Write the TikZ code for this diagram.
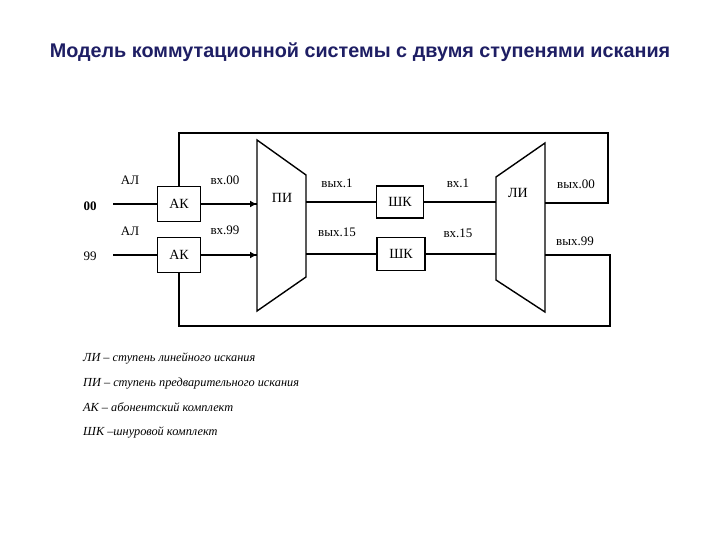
\documentclass[tikz,border=0pt]{standalone}
\usepackage{fontspec}
\setmainfont{Liberation Serif}
\newfontfamily\titlefont{Liberation Sans}
\usetikzlibrary{arrows.meta}
\definecolor{navy}{RGB}{30,30,100}
\begin{document}
\begin{tikzpicture}[x=1pt,y=-1pt,
  ln/.style={line width=1.4pt},
  box/.style={draw,line width=1.4pt,minimum width=43pt,minimum height=35pt,inner sep=0pt,font=\fontsize{14}{16}\selectfont},
  lbl/.style={font=\fontsize{13}{15}\selectfont,inner sep=1pt},
  leg/.style={font=\itshape\fontsize{12.3}{14}\selectfont,anchor=west,inner sep=0pt},
  arr/.style={line width=2.2pt,-{Latex[length=7pt,width=7pt]}}]
\useasboundingbox (0,0) rectangle (720,540);
\node[text=navy,font=\titlefont\bfseries\fontsize{19.8}{22}\selectfont] (title) at (360,52) {Модель коммутационной системы с двумя ступенями искания};
% AK boxes
\node[box] (ak1) at (179,204) {АК};
\node[box] (ak2) at (179,255) {АК};
\node[box,minimum width=47pt,minimum height=32pt] (sk1) at (400,202) {ШК};
\node[box,minimum width=48pt,minimum height=33pt] (sk2) at (401,254) {ШК};
% trapezoids
\draw[line width=1.4pt] (257,140) -- (306,175) -- (306,277) -- (257,311) -- cycle;
\draw[line width=1.4pt] (496,177) -- (545,143) -- (545,312) -- (496,280) -- cycle;
\coordinate (pil1) at (257,204); \coordinate (pil2) at (257,255);
\coordinate (pir1) at (306,202); \coordinate (pir2) at (306,254);
\coordinate (lil1) at (496,202); \coordinate (lil2) at (496,254);
\coordinate (lir1) at (545,203); \coordinate (lir2) at (545,255);
\coordinate (in1) at (113,204); \coordinate (in2) at (113,255);
\node[lbl,font=\fontsize{14}{16}\selectfont] (pi) at (282,198) {ПИ};
\node[lbl,font=\fontsize{14}{16}\selectfont] (li) at (518,193) {ЛИ};
% lines
\draw[ln] (in1) -- (ak1.west);
\draw[ln] (in2) -- (ak2.west);
\draw[ln] (ak1.east) -- (pil1);
\draw[ln] (ak2.east) -- (pil2);
\draw[arr] (225,204) -- (pil1);
\draw[arr] (225,255) -- (pil2);
\draw[ln] (pir1) -- (sk1.west);
\draw[ln] (pir2) -- (sk2.west);
\draw[ln] (sk1.east) -- (lil1);
\draw[ln] (sk2.east) -- (lil2);
\draw[ln] (ak1.north) -- (179,133) -- (608,133) -- (608,203) -- (lir1);
\draw[ln] (ak2.south) -- (179,326) -- (610,326) -- (610,255) -- (lir2);
% labels
\node[lbl] (al1) at (130,180) {АЛ};
\node[lbl] (al2) at (130,231) {АЛ};
\node[lbl,font=\bfseries\fontsize{13}{15}\selectfont] (n00) at (90,206) {00};
\node[lbl] (n99) at (90,256) {99};
\node[lbl] (v00) at (225,180) {вх.00};
\node[lbl] (v99) at (225,230) {вх.99};
\node[lbl] (o1) at (337,183) {вых.1};
\node[lbl] (o15) at (337,232) {вых.15};
\node[lbl] (i1) at (458,183) {вх.1};
\node[lbl] (i15) at (458,233) {вх.15};
\node[lbl] (o00) at (576,184) {вых.00};
\node[lbl] (o99) at (575,241) {вых.99};
% legend
\node[leg] (l1) at (83,358) {ЛИ -- ступень линейного искания};
\node[leg] (l2) at (83,384) {ПИ -- ступень предварительного искания};
\node[leg] (l3) at (83,407) {АК -- абонентский комплект};
\node[leg] (l4) at (83,432) {ШК --шнуровой комплект};
\end{tikzpicture}
\end{document}
